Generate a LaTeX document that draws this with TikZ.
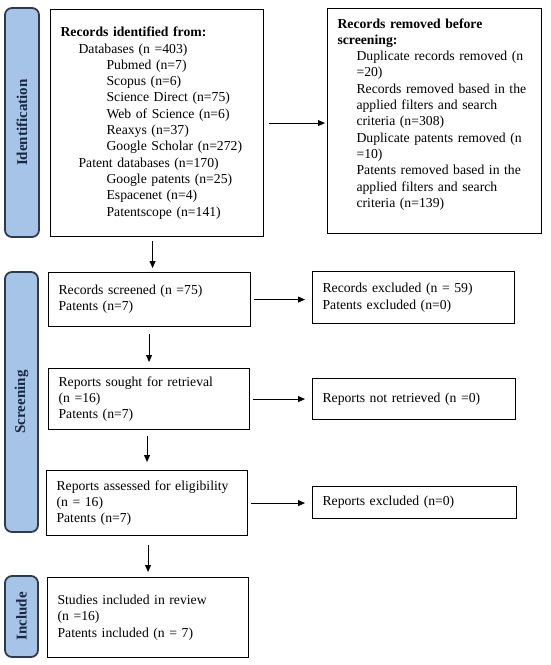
\documentclass[tikz,border=0pt]{standalone}
\usepackage{fontspec}
\setmainfont{Liberation Serif}
\usetikzlibrary{arrows.meta}

\definecolor{stagefill}{HTML}{A6C4E7}
\definecolor{stagedraw}{HTML}{2F3B4C}
\definecolor{stagetext}{HTML}{1A2744}

\begin{document}
\begin{tikzpicture}[
    x=1pt, y=-1pt,
    box/.style = {draw, line width=1.1pt, anchor=north west, inner xsep=10pt, inner ysep=0pt, align=left, font=\fontsize{13.7}{16.3}\selectfont},
    stage/.style = {draw=stagedraw, fill=stagefill, line width=1.8pt, rounded corners=7pt, rotate=90, inner sep=0pt, text=stagetext, font=\fontsize{15}{18}\selectfont\bfseries},
    flow/.style = {-{Triangle[length=7pt,width=6pt]}, line width=0.8pt}
]
\useasboundingbox (0,0) rectangle (550,665);

% stages
\node[stage, minimum width=229, minimum height=34] (identification) at (22,122.5) {Identification};
\node[stage, minimum width=260, minimum height=33] (screening) at (21.5,402) {Screening};
\node[stage, minimum width=81, minimum height=33] (include) at (21.5,616.5) {Include};

% left column
\node[box, minimum width=213, minimum height=227, text width=193] (records) at (50,9) {%
\textbf{Records identified from:}\\
\hspace*{18pt}Databases (n =403)\\
\hspace*{46pt}Pubmed (n=7)\\
\hspace*{46pt}Scopus (n=6)\\
\hspace*{46pt}Science Direct (n=75)\\
\hspace*{46pt}Web of Science (n=6)\\
\hspace*{46pt}Reaxys (n=37)\\
\hspace*{46pt}Google Scholar (n=272)\\
\hspace*{18pt}Patent databases (n=170)\\
\hspace*{46pt}Google patents (n=25)\\
\hspace*{46pt}Espacenet (n=4)\\
\hspace*{46pt}Patentscope (n=141)};
\node[box, minimum width=202, minimum height=54, text width=182] (screened) at (48,272) {Records screened (n =75)\\Patents (n=7)};
\node[box, minimum width=201, minimum height=61, text width=181] (sought) at (48,368) {Reports sought for retrieval\\(n =16)\\Patents (n=7)};
\node[box, minimum width=201, minimum height=65, text width=181] (assessed) at (46,470) {Reports assessed for eligibility\\(n = 16)\\Patents (n=7)};
\node[box, minimum width=201, minimum height=80, text width=181] (included) at (47,577) {Studies included in review\\(n =16)\\Patents included (n = 7)};

% right column
\node[box, minimum width=214, minimum height=225, text width=194] (removed) at (327,8) {%
\textbf{Records removed before}\\
\textbf{screening:}\\
\hspace*{19pt}Duplicate records removed (n\\
\hspace*{19pt}=20)\\
\hspace*{19pt}Records removed based in the\\
\hspace*{19pt}applied filters and search\\
\hspace*{19pt}criteria (n=308)\\
\hspace*{19pt}Duplicate patents removed (n\\
\hspace*{19pt}=10)\\
\hspace*{19pt}Patents removed based in the\\
\hspace*{19pt}applied filters and search\\
\hspace*{19pt}criteria (n=139)\\
\mbox{}};
\node[box, minimum width=202, minimum height=52, text width=182] (excluded) at (312,271) {Records excluded (n = 59)\\Patents excluded (n=0)};
\node[box, minimum width=203, minimum height=41, text width=183] (notretrieved) at (312,378) {Reports not retrieved (n =0)};
\node[box, minimum width=204, minimum height=32, text width=184] (repexcluded) at (312,486) {Reports excluded (n=0)};

% flow
\draw[flow, shorten <=5pt, shorten >=2pt] (records.east) -- (records.east -| removed.west);
\draw[flow, shorten <=4pt, shorten >=4pt] ([xshift=3pt]screened.north |- records.south) -- ([xshift=3pt]screened.north);
\draw[flow, shorten <=3pt, shorten >=7pt] (screened.east) -- (screened.east -| excluded.west);
\draw[flow, shorten <=7pt, shorten >=6pt] (sought.north |- screened.south) -- (sought.north);
\draw[flow, shorten <=3pt, shorten >=7pt] (sought.east) -- (sought.east -| notretrieved.west);
\draw[flow, shorten <=6pt, shorten >=8pt] (assessed.north |- sought.south) -- (assessed.north);
\draw[flow, shorten <=3pt, shorten >=7pt] (assessed.east) -- (assessed.east -| repexcluded.west);
\draw[flow, shorten <=9pt, shorten >=5pt] (included.north |- assessed.south) -- (included.north);

\end{tikzpicture}
\end{document}
